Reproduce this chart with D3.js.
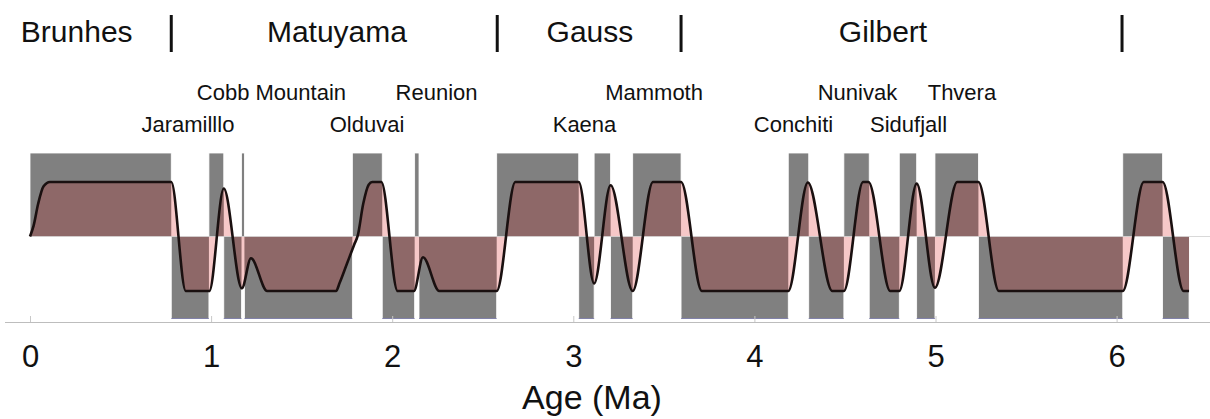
<!DOCTYPE html>
<html><head><meta charset="utf-8">
<script src="https://cdn.jsdelivr.net/npm/d3@7"></script>
<style>
html,body{margin:0;padding:0;background:#fff;}
svg{display:block;font-family:"Liberation Sans",Arial,sans-serif;}
</style></head>
<body>
<svg id="chart" width="1210" height="419"></svg>
<script>
// ---- data ----
const chronNames = ["Brunhes","Matuyama","Gauss","Gilbert"];
const chronLabelAges = [0.258,1.695,3.092,4.71];
const chronBoundaries = [0.78,2.58,3.595,6.03];

const subchronNames = ["Cobb Mountain","Reunion","Mammoth","Nunivak","Thvera","Jaramilllo","Olduvai","Kaena","Conchiti","Sidufjall"];
const subchronLabelAges = [1.333,2.245,3.446,4.569,5.146,0.872,1.861,3.062,4.216,4.851];
const subchronRow = [0,0,0,0,0,1,1,1,1,1];

const intervalStart = [0,0.78,0.988,1.07,1.168,1.184,1.78,1.945,2.124,2.148,2.577,3.03,3.115,3.206,3.328,3.595,4.187,4.30,4.494,4.634,4.80,4.896,4.997,5.237,6.034,6.254];
const intervalEnd   = [0.78,0.988,1.07,1.168,1.184,1.78,1.945,2.124,2.148,2.577,3.03,3.115,3.206,3.328,3.595,4.187,4.30,4.494,4.634,4.80,4.896,4.997,5.237,6.034,6.254,6.40];
const intervalPolarity = [1,-1,1,-1,1,-1,1,-1,1,-1,1,-1,1,-1,1,-1,1,-1,1,-1,1,-1,1,-1,1,-1];

const curveAges   = [0,0.02,0.045,0.075,0.11,0.78,0.86,0.99,1.07,1.17,1.22,1.31,1.69,1.71,1.75,1.79,1.81,1.84,1.87,1.89,1.94,2.03,2.12,2.17,2.26,2.577,2.68,3.03,3.115,3.206,3.328,3.44,3.595,3.71,4.187,4.295,4.43,4.494,4.60,4.63,4.75,4.80,4.896,4.997,5.12,5.237,5.35,6.034,6.15,6.254,6.37,6.40];
const curveValues = [0,0.2,0.6,0.92,1,1,-1,-1,0.88,-0.95,-0.4,-1,-1,-0.85,-0.5,-0.15,0.02,0.6,0.95,1,1,-1,-1,-0.38,-1,-1,1,1,-0.86,0.94,-1,1,1,-1,-1,0.99,-1,-1,1,1,-1,-1,0.97,-0.94,1,1,-1,-1,1,1,-1,-1];

const tickValues = [0,1,2,3,4,5,6];
const axisTitle = "Age (Ma)";

// ---- layout ----
const svg = d3.select("#chart");
const x = d3.scaleLinear().domain([0,6]).range([30,1116.6]);
const y = d3.scaleLinear().domain([-1,1]).range([291,182]);
const zeroY = y(0);
const boxTop = 153, boxBottom = 319, axisY = 322;

const intervals = intervalStart.map((s,i)=>({s, e:intervalEnd[i], p:intervalPolarity[i]}));
const curve = curveAges.map((a,i)=>({a, v:curveValues[i]}));

// clip path of boxes
const defs = svg.append("defs");
const clip = defs.append("clipPath").attr("id","boxclip");
clip.selectAll("rect").data(intervals).join("rect")
  .attr("x",d=>x(d.s)).attr("width",d=>x(d.e)-x(d.s))
  .attr("y",d=>d.p>0?boxTop:zeroY).attr("height",d=>d.p>0?zeroY-boxTop:boxBottom-zeroY);

// grey boxes
svg.append("g").selectAll("rect").data(intervals).join("rect")
  .attr("x",d=>x(d.s)).attr("width",d=>x(d.e)-x(d.s))
  .attr("y",d=>d.p>0?boxTop:zeroY).attr("height",d=>d.p>0?zeroY-boxTop:boxBottom-zeroY)
  .attr("fill","#808080").attr("stroke","#fff").attr("stroke-width",0.8);

// thin bluish bottom edge of reversed boxes
svg.append("g").selectAll("line").data(intervals.filter(d=>d.p<0)).join("line")
  .attr("x1",d=>x(d.s)).attr("x2",d=>x(d.e)).attr("y1",boxBottom-0.5).attr("y2",boxBottom-0.5)
  .attr("stroke","#6c6ca6").attr("stroke-width",1).attr("opacity",0.7);

// fill between zero and curve
const area = d3.area().x(d=>x(d.a)).y0(zeroY).y1(d=>y(d.v)).curve(d3.curveMonotoneX);
svg.append("path").datum(curve).attr("d",area).attr("fill","#f6c8c8");
svg.append("path").datum(curve).attr("d",area).attr("fill","#8e6868").attr("clip-path","url(#boxclip)");

// zero line
svg.append("line").attr("x1",x(0)).attr("x2",1210).attr("y1",zeroY).attr("y2",zeroY)
  .attr("stroke","#d0d0d0").attr("stroke-width",1).attr("opacity",0.8);

// curve
const line = d3.line().x(d=>x(d.a)).y(d=>y(d.v)).curve(d3.curveMonotoneX);
svg.append("path").datum(curve).attr("d",line).attr("fill","none")
  .attr("stroke","#1a1010").attr("stroke-width",2.6).attr("stroke-linejoin","round");

// axis
const axis = d3.axisBottom(x).tickValues(tickValues).tickSize(0).tickPadding(0).tickFormat(d3.format("d"));
const gx = svg.append("g").attr("transform",`translate(0,${axisY})`).call(axis);
gx.select(".domain").remove();
gx.selectAll("text").attr("font-size",31).attr("fill","#111").attr("dy",null).attr("y",45)
  .attr("font-family","Liberation Sans, Arial, sans-serif");
svg.append("line").attr("x1",5).attr("x2",1210).attr("y1",axisY+0.5).attr("y2",axisY+0.5)
  .attr("stroke","#bdbdbd").attr("stroke-width",1);
svg.append("g").selectAll("line").data(tickValues).join("line")
  .attr("x1",d=>x(d)+0.5).attr("x2",d=>x(d)+0.5).attr("y1",axisY-6).attr("y2",axisY)
  .attr("stroke","#c8c8c8").attr("stroke-width",1);

svg.append("text").attr("x",592).attr("y",409).attr("text-anchor","middle")
  .attr("font-size",34).attr("fill","#111").text(axisTitle);

// chron labels and boundaries
svg.append("g").selectAll("text").data(chronNames).join("text")
  .attr("x",(d,i)=>x(chronLabelAges[i])).attr("y",42).attr("text-anchor","middle")
  .attr("font-size",30).attr("fill","#111").text(d=>d);
svg.append("g").selectAll("line").data(chronBoundaries).join("line")
  .attr("x1",d=>x(d)).attr("x2",d=>x(d)).attr("y1",15).attr("y2",52)
  .attr("stroke","#111").attr("stroke-width",3);

// subchron labels
svg.append("g").selectAll("text").data(subchronNames).join("text")
  .attr("x",(d,i)=>x(subchronLabelAges[i])).attr("y",(d,i)=>subchronRow[i]===0?100:132)
  .attr("text-anchor","middle").attr("font-size",22).attr("fill","#111").text(d=>d);
</script>
</body></html>
